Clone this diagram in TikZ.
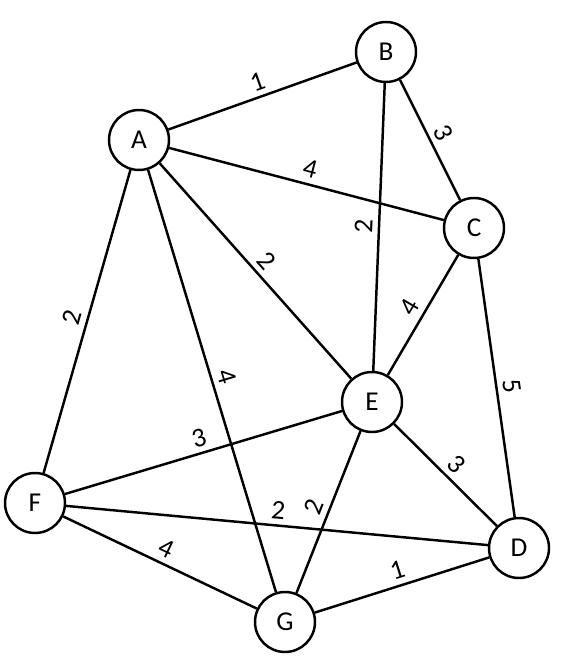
\documentclass[tikz,border=0pt]{standalone}
\usepackage{fontspec}
\setmainfont{Carlito}
\usepackage{tikz}

\begin{document}
\begin{tikzpicture}[
  x=0.02cm, y=-0.02cm,
  vertex/.style={circle, draw=black, line width=1.4pt, fill=white, minimum size=1.2cm, inner sep=0pt, font=\fontsize{15.5}{18}\selectfont},
  edge/.style={black, line width=1.4pt},
  weight/.style={midway, sloped, above, inner sep=3pt, font=\fontsize{15.5}{18}\selectfont}
]

\useasboundingbox (0,0) rectangle (562,671);

% Vertices
\node[vertex] (A) at (139,140) {A};
\node[vertex] (B) at (386,52) {B};
\node[vertex] (C) at (474,228) {C};
\node[vertex] (E) at (372,402) {E};
\node[vertex] (F) at (35,503) {F};
\node[vertex] (D) at (519,548) {D};
\node[vertex] (G) at (285,622) {G};

% Weighted edges
\foreach \from/\to/\w in {A/B/1, A/C/4, B/C/3, E/B/2, E/C/4, C/D/5, A/E/2,
                         F/A/2, A/G/4, F/E/3, F/D/2, F/G/4, G/E/2, E/D/3, G/D/1}
  \draw[edge] (\from) -- node[weight] {\w} (\to);

\end{tikzpicture}
\end{document}
